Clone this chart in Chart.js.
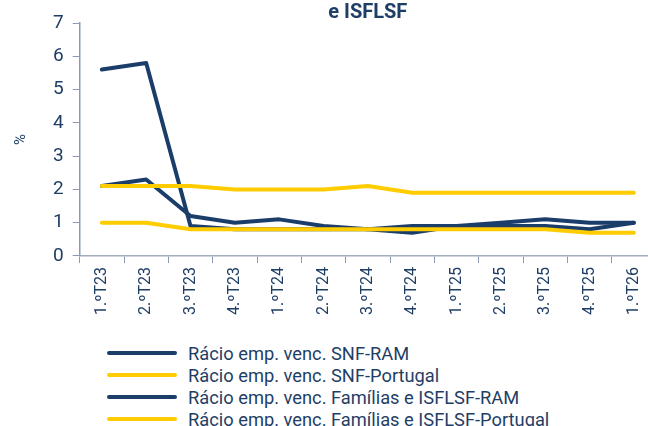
<!DOCTYPE html>
<html>
<head>
<meta charset="utf-8">
<script src="https://cdn.jsdelivr.net/npm/chart.js@4.4.1/dist/chart.umd.min.js"></script>
<style>
  html,body{margin:0;padding:0;background:#fff;overflow:hidden;width:648px;height:426px;}
  #wrap{position:absolute;left:0;top:0;width:660px;height:319px;}
  #legend{position:absolute;left:107px;top:342px;font-family:Roboto,sans-serif;font-size:18.3px;color:#1f3e66;}
  .item{display:flex;align-items:center;height:22px;white-space:nowrap;}
  .item span.mk{display:inline-block;width:70px;height:4px;border-radius:2px;margin-right:11px;}
</style>
</head>
<body>
<div id="wrap"><canvas id="chart"></canvas></div>
<div id="legend"></div>
<script>
// trimestres
const trimestres=["1.ºT23","2.ºT23","3.ºT23","4.ºT23","1.ºT24","2.ºT24","3.ºT24","4.ºT24","1.ºT25","2.ºT25","3.ºT25","4.ºT25","1.ºT26"];

// rácios de empréstimos vencidos (%)
const snfRAM=[5.6,5.8,0.9,0.8,0.8,0.8,0.8,0.7,0.9,0.9,0.9,0.8,1.0];
const snfPT=[2.1,2.1,2.1,2.0,2.0,2.0,2.1,1.9,1.9,1.9,1.9,1.9,1.9];
const famRAM=[2.1,2.3,1.2,1.0,1.1,0.9,0.8,0.9,0.9,1.0,1.1,1.0,1.0];
const famPT=[1.0,1.0,0.8,0.8,0.8,0.8,0.8,0.8,0.8,0.8,0.8,0.7,0.7];

const yTicks=[0,1,2,3,4,5,6,7];

const AZUL="#1b3d6a", AMARELO="#ffcc00", TXT="#1f3e66", EIXO="#8a9bb3";

function serie(label,data,cor,ordem){
  return {label:label,data:data,borderColor:cor,backgroundColor:cor,borderWidth:4,
    pointRadius:0,tension:0,fill:false,order:ordem,borderCapStyle:"round",borderJoinStyle:"round"};
}

const chart=new Chart(document.getElementById("chart"),{
  type:"line",
  data:{
    labels:trimestres,
    datasets:[
      serie("Rácio emp. venc. SNF-RAM",snfRAM,AZUL,2),
      serie("Rácio emp. venc. SNF-Portugal",snfPT,AMARELO,0),
      serie("Rácio emp. venc. Famílias e ISFLSF-RAM",famRAM,AZUL,3),
      serie("Rácio emp. venc. Famílias e ISFLSF-Portugal",famPT,AMARELO,1)
    ]
  },
  options:{
    responsive:true,
    maintainAspectRatio:false,
    animation:false,
    layout:{padding:{left:12,right:4,top:0,bottom:0}},
    plugins:{
      legend:{display:false},
      tooltip:{enabled:false},
      title:{display:true,text:"e ISFLSF",fullSize:false,color:TXT,
        font:{family:"Roboto",size:20,weight:"bold",lineHeight:1.05},padding:{top:2,bottom:0}}
    },
    scales:{
      x:{
        offset:true,
        grid:{display:true,drawOnChartArea:false,offset:true,tickLength:7,color:EIXO,tickColor:EIXO},
        border:{color:"#a3adbd",width:1.5},
        ticks:{color:TXT,font:{family:"Roboto",size:16},maxRotation:90,minRotation:90,padding:4}
      },
      y:{
        min:0,max:7,
        afterBuildTicks:ax=>{ax.ticks=yTicks.map(v=>({value:v}));},
        grid:{display:true,drawOnChartArea:false,tickLength:7,color:EIXO,tickColor:EIXO},
        border:{color:EIXO,width:1.5},
        title:{display:true,text:"%",color:TXT,font:{family:"Roboto",size:15},padding:{top:0,bottom:14}},
        ticks:{color:TXT,font:{family:"Roboto",size:19},padding:9}
      }
    }
  }
});

// legenda em coluna
const leg=document.getElementById("legend");
chart.data.datasets.forEach(ds=>{
  leg.innerHTML+=`<div class="item"><span class="mk" style="background:${ds.borderColor}"></span>${ds.label}</div>`;
});
</script>
</body>
</html>
